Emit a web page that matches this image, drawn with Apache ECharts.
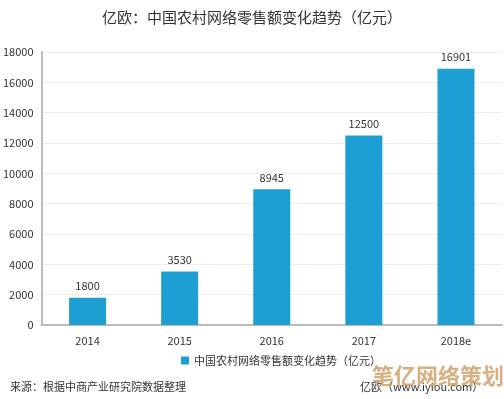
<!DOCTYPE html>
<html>
<head>
<meta charset="utf-8">
<script src="https://cdn.jsdelivr.net/npm/echarts@6/dist/echarts.min.js"></script>
<style>
html, body { margin: 0; padding: 0; background: #fff; }
#main { width: 504px; height: 399px; }
</style>
</head>
<body>
<div id="main"></div>
<script>
var years = ['2014', '2015', '2016', '2017', '2018e'];
var sales = [1800, 3530, 8945, 12500, 16901];
var seriesName = '中国农村网络零售额变化趋势（亿元）';

var font = '"Microsoft YaHei", "Noto Sans CJK SC", sans-serif';
var myChart = echarts.init(document.getElementById('main'));
var option = {
    backgroundColor: '#fff',
    textStyle: { fontFamily: font },
    title: {
        text: '亿欧：中国农村网络零售额变化趋势（亿元）',
        left: 'center',
        top: 5,
        textStyle: { color: '#333', fontSize: 15, fontWeight: 'normal', fontFamily: font }
    },
    legend: {
        data: [seriesName],
        bottom: 28,
        left: 176,
        itemWidth: 8,
        itemHeight: 8,
        itemGap: 5,
        icon: 'rect',
        textStyle: { color: '#333', fontSize: 11 }
    },
    grid: { left: 41, right: 2, top: 52, bottom: 74, containLabel: false },
    xAxis: {
        type: 'category',
        data: years,
        axisLine: { lineStyle: { color: '#bbb', width: 2 } },
        axisTick: { show: false },
        axisLabel: { color: '#333', fontSize: 11, margin: 10 }
    },
    yAxis: {
        type: 'value',
        min: 0,
        max: 18000,
        interval: 2000,
        axisLine: { show: true, lineStyle: { color: '#bbb', width: 2 } },
        axisTick: { show: false },
        splitLine: { lineStyle: { color: '#eee' } },
        axisLabel: { color: '#333', fontSize: 11, margin: 8, formatter: function (v) { return String(v); } }
    },
    series: [{
        name: seriesName,
        type: 'bar',
        data: sales,
        barWidth: 37,
        itemStyle: { color: '#1e9fd3' },
        label: { show: true, position: 'top', color: '#333', fontSize: 11, distance: 6 }
    }],
    graphic: [
        {
            type: 'text', left: 10, top: 381,
            style: { text: '来源：根据中商产业研究院数据整理', fill: '#333', font: '11px ' + font }
        },
        {
            type: 'text', left: 360, top: 381,
            style: { text: '亿欧（www.iyiou.com）', fill: '#333', font: '11px ' + font }
        },
        {
            type: 'text', left: 372, top: 365,
            style: { text: '笔亿网络策划', fill: 'rgba(200,150,90,0.75)', font: 'bold 22px ' + font }
        }
    ]
};
myChart.setOption(option);
</script>
</body>
</html>
